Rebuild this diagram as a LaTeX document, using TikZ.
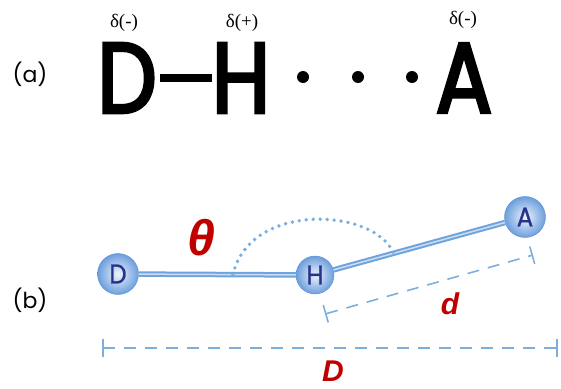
\documentclass[tikz,border=0pt]{standalone}
\usepackage{fontspec}
\setmainfont{Liberation Serif}
\newfontfamily\geofont[FakeStretch=0.84, FakeBold=3]{Poppins}
\newfontfamily\atomfont[FakeStretch=0.9, FakeBold=1]{Poppins}
\newfontfamily\tagfont{Poppins}
\newfontfamily\qtyfont{Liberation Sans}
\usetikzlibrary{arrows.meta,positioning}

\definecolor{bondblue}{HTML}{6FA3DC}
\definecolor{bondlight}{HTML}{C9DDF4}
\definecolor{dimblue}{HTML}{7DAEE0}
\definecolor{atomedge}{HTML}{5A8FD0}
\definecolor{atomlight}{HTML}{EEF4FC}
\definecolor{atomdark}{HTML}{6C9EDD}
\definecolor{atomnavy}{HTML}{27338A}
\definecolor{qtyred}{HTML}{C00000}

\begin{document}
\begin{tikzpicture}[x=1pt, y=-1pt]
\tikzstyle{big} = [font=\geofont\fontsize{100}{100}\selectfont, inner sep=0pt, text depth=0pt]
\tikzstyle{charge} = [font=\fontsize{19}{19}\selectfont, inner sep=0pt]
\tikzstyle{part} = [font=\tagfont\fontsize{22}{22}\selectfont]
\tikzstyle{atom} = [circle, draw=atomedge, inner color=atomlight, outer color=atomdark, minimum size=41pt, inner sep=0pt, text=atomnavy, font=\atomfont\fontsize{27}{27}\selectfont]
\tikzstyle{bond} = [draw=bondblue, line width=2pt, double=bondlight, double distance=1.5pt]
\tikzstyle{dim} = [dimblue, line width=1.6pt, dash pattern=on 12pt off 9pt, {Bar[width=18pt]}-{Bar[width=18pt]}]
\tikzstyle{qty} = [text=qtyred, font=\qtyfont\bfseries\itshape\fontsize{30}{30}\selectfont]

\useasboundingbox (0,0) rectangle (561,388);

% (a) the formula
\node[part] (tagA) at (30,74) {(a)};
\node[big] (symD) at (127,78) {D};
\node[big] (symH) at (241,78) {H};
\node[big] (symA) at (464,78) {A};
\draw[line width=8pt, shorten <=3pt] (symD) -- (symH);
\foreach \x [count=\i] in {303,358,412}
  \node[circle, fill, minimum size=12pt, inner sep=0pt] (dot\i) at (\x,77) {};
\node[charge] (chgD) at (124,23) {δ(-)};
\node[charge] (chgH) at (242,23) {δ(+)};
\node[charge] (chgA) at (463,20) {δ(-)};

% (b) the geometry
\node[part] (tagB) at (30,300) {(b)};
\node[atom] (atD) at (118,274) {D};
\node[atom, minimum size=38pt] (atH) at (315,275) {H};
\node[atom] (atA) at (525,217) {A};
\draw[bond] (atD) -- (atH) coordinate[pos=0.6] (arcL);
\draw[bond] (atH) -- (atA) coordinate[pos=0.35] (arcR);
\draw[dimblue, line width=3.8pt, line cap=round, dash pattern=on 0pt off 7pt] (arcL) .. controls +(17,-74) and +(-18,-45) .. (arcR);
\node[qty, font=\qtyfont\bfseries\itshape\fontsize{50}{50}\selectfont] (theta) at (201,238) {θ};

\coordinate (dL) at (325,314);
\coordinate (dR) at (533,255);
\draw[dim] (dL) -- (dR);
\node[qty] (lbld) at (450,304) {d};

\coordinate (DL) at (102,348);
\coordinate (DR) at (558,348);
\draw[dim] (DL) -- (DR);
\node[qty] (lblD) at (333,371) {D};
\end{tikzpicture}
\end{document}
